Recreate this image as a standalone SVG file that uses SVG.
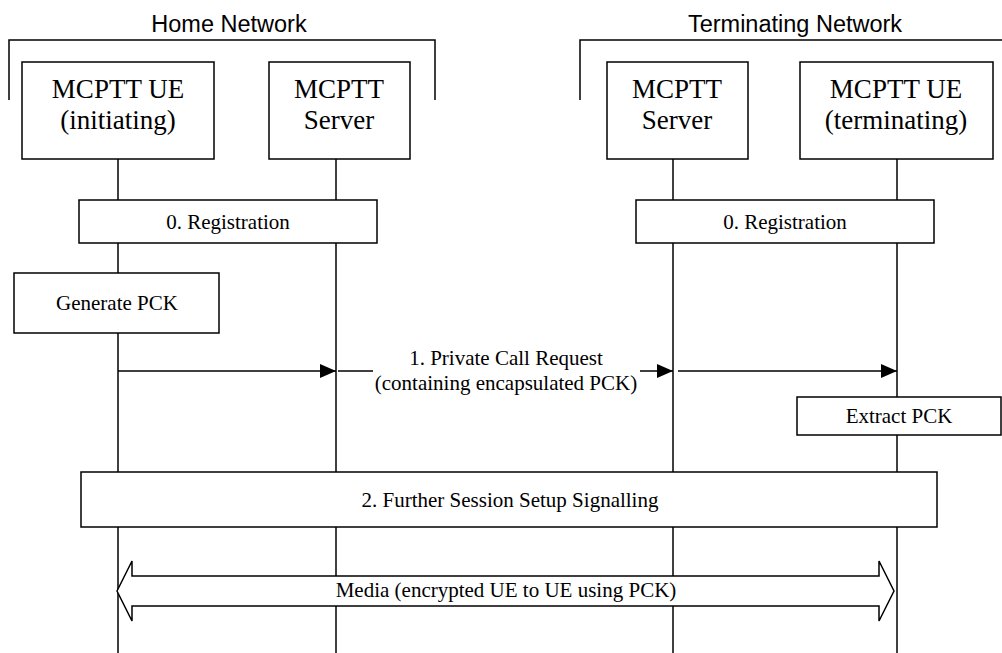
<svg xmlns="http://www.w3.org/2000/svg" width="1002" height="653" viewBox="0 0 1002 653">
<style>
.box{fill:#fff;stroke:#000;stroke-width:1.5}
.ln{fill:none;stroke:#000;stroke-width:1.5}
.t{font-family:"Liberation Serif","Times New Roman",serif;fill:#000;text-anchor:middle}
.big{font-size:27px}
.sm{font-size:21px}
.hdr{font-family:"Liberation Sans",Arial,sans-serif;font-size:23.5px;fill:#000;text-anchor:middle}
</style>
<defs>
<marker id="ah" markerWidth="16" markerHeight="14" refX="16" refY="7" orient="auto" markerUnits="userSpaceOnUse">
<path d="M0,0 L16,7 L0,14 Z" fill="#000"/>
</marker>
</defs>
<rect width="1002" height="653" fill="#fff"/>
<g id="home-network">
<path class="ln" d="M9,100 V40 H435 V100"/>
<text class="hdr" x="229" y="32">Home Network</text>
</g>
<g id="terminating-network">
<path class="ln" d="M580,100 V40 H1002"/>
<text class="hdr" x="795" y="32">Terminating Network</text>
</g>
<g id="lifelines">
<line class="ln" x1="118" y1="159" x2="118" y2="653"/>
<line class="ln" x1="336" y1="159" x2="336" y2="653"/>
<line class="ln" x1="673" y1="159" x2="673" y2="653"/>
<line class="ln" x1="897" y1="159" x2="897" y2="653"/>
</g>
<g id="ue-initiating">
<rect class="box" x="22" y="62" width="192" height="97"/>
<text class="t big" x="118" y="98">MCPTT UE</text>
<text class="t big" x="118" y="129">(initiating)</text>
</g>
<g id="server-home">
<rect class="box" x="269" y="62" width="141" height="97"/>
<text class="t big" x="339" y="98">MCPTT</text>
<text class="t big" x="339" y="129">Server</text>
</g>
<g id="server-term">
<rect class="box" x="607" y="62" width="141" height="97"/>
<text class="t big" x="677" y="98">MCPTT</text>
<text class="t big" x="677" y="129">Server</text>
</g>
<g id="ue-terminating">
<rect class="box" x="800" y="62" width="193" height="97"/>
<text class="t big" x="896" y="98">MCPTT UE</text>
<text class="t big" x="896" y="129">(terminating)</text>
</g>
<g id="registration-home">
<rect class="box" x="79" y="200" width="298" height="43"/>
<text class="t sm" x="228" y="229">0. Registration</text>
</g>
<g id="registration-term">
<rect class="box" x="636" y="200" width="298" height="43"/>
<text class="t sm" x="785" y="229">0. Registration</text>
</g>
<g id="generate-pck">
<rect class="box" x="14" y="273" width="205" height="60"/>
<text class="t sm" x="117" y="310">Generate PCK</text>
</g>
<g id="extract-pck">
<rect class="box" x="797" y="397" width="204" height="38"/>
<text class="t sm" x="899" y="423">Extract PCK</text>
</g>
<g id="further-session">
<rect class="box" x="81" y="472" width="856" height="55"/>
<text class="t sm" x="510" y="507">2. Further Session Setup Signalling</text>
</g>
<g id="connectors">
<line class="ln" x1="118" y1="371" x2="336" y2="371" marker-end="url(#ah)"/>
<line class="ln" x1="338" y1="371" x2="373" y2="371"/>
<line class="ln" x1="640" y1="371" x2="673" y2="371" marker-end="url(#ah)"/>
<line class="ln" x1="678" y1="371" x2="897" y2="371" marker-end="url(#ah)"/>
<text class="t sm" x="506" y="365">1. Private Call Request</text>
<text class="t sm" x="506" y="390">(containing encapsulated PCK)</text>
<path class="box" d="M117,591 L132,561 V576 H879 V561 L894,591 L879,621 V606 H132 V621 Z"/>
<text class="t sm" x="506" y="597">Media (encrypted UE to UE using PCK)</text>
</g>
</svg>
